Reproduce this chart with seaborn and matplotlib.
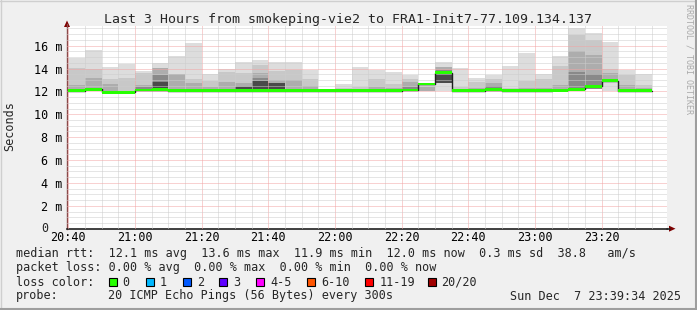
import matplotlib
matplotlib.use("Agg")
import matplotlib.pyplot as plt
import numpy as np
import pandas as pd
import seaborn as sns
from matplotlib.lines import Line2D
from matplotlib.patches import Polygon, Rectangle

# ---------------- data ----------------
bar_start = ["20:40", "20:45", "20:50", "20:55", "21:00", "21:05", "21:10", "21:15",
             "21:20", "21:25", "21:30", "21:35", "21:40", "21:45", "21:50", "21:55",
             "22:00", "22:05", "22:10", "22:15", "22:20", "22:25", "22:30", "22:35",
             "22:40", "22:45", "22:50", "22:55", "23:00", "23:05", "23:10", "23:15",
             "23:20", "23:25", "23:30"]
median_ms = [12.06, 12.18, 11.92, 11.92, 12.12, 12.15, 12.06, 12.06, 12.06, 12.06,
             12.06, 12.06, 12.06, 12.06, 12.06, 12.06, 12.06, 12.06, 12.06, 12.06,
             12.12, 12.65, 13.64, 12.06, 12.06, 12.15, 12.06, 12.06, 12.06, 12.08,
             12.18, 12.43, 12.94, 12.06, 12.06]
loss_count = [0] * 35
smoke_min = [12.00, 12.10, 11.88, 11.88, 12.05, 12.08, 12.00, 12.00, 12.00, 12.00,
             12.00, 12.00, 12.00, 12.00, 12.00, 12.00, 12.00, 12.00, 12.00, 12.00,
             12.05, 12.06, 12.00, 12.00, 12.00, 12.05, 12.00, 12.00, 12.00, 12.00,
             12.08, 12.20, 12.06, 12.00, 12.00]
inner_lo = [12.00, 12.10, 11.88, 11.88, 12.05, 12.08, 12.00, 12.00, 12.00, 12.00,
            12.00, 12.00, 12.00, 12.00, 12.00, 12.00, 12.00, 12.00, 12.00, 12.00,
            12.05, 12.06, 12.70, 12.00, 12.00, 12.05, 12.00, 12.00, 12.00, 12.00,
            12.08, 12.20, 12.94, 12.00, 12.00]
smoke_max = [14.95, 15.60, 14.10, 14.42, 13.78, 14.51, 15.10, 16.23, 13.55, 14.00,
             14.54, 14.75, 14.57, 14.54, 13.87, 12.15, 12.65, 14.10, 13.87, 13.67,
             13.43, 12.76, 14.57, 14.05, 13.15, 13.46, 14.22, 15.36, 13.50, 15.07,
             17.54, 17.10, 16.30, 13.90, 13.55]
smoke_q80 = [14.07, 14.00, 13.06, 13.20, 13.60, 14.02, 13.52, 13.06, 12.90, 13.68,
             13.60, 14.30, 13.81, 13.90, 13.10, 12.00, 12.30, 12.41, 13.11, 12.65,
             13.06, 12.70, 14.16, 12.35, 12.80, 13.05, 12.30, 12.94, 13.06, 14.20,
             16.96, 16.47, 14.00, 13.40, 12.54]
smoke_q60 = [12.56, 13.20, 12.65, 11.88, 12.56, 14.02, 13.52, 12.74, 12.41, 12.82,
             12.70, 13.58, 13.00, 13.00, 12.50, 12.00, 12.00, 12.20, 12.40, 12.30,
             12.80, 12.35, 14.16, 12.00, 12.30, 12.70, 12.00, 12.30, 12.30, 12.53,
             15.50, 15.16, 13.60, 12.54, 12.30]
smoke_q45 = [12.00, 12.10, 11.88, 11.88, 12.40, 13.43, 12.00, 12.00, 12.00, 12.00,
             12.50, 13.15, 12.75, 12.00, 12.00, 12.00, 12.00, 12.00, 12.00, 12.00,
             12.35, 12.06, 13.87, 12.00, 12.00, 12.45, 12.00, 12.00, 12.00, 12.25,
             13.70, 13.55, 13.10, 12.00, 12.00]
smoke_q35 = [12.00, 12.10, 11.88, 11.88, 12.25, 12.85, 12.00, 12.00, 12.00, 12.00,
             12.35, 12.88, 12.70, 12.00, 12.00, 12.00, 12.00, 12.00, 12.00, 12.00,
             12.20, 12.06, 13.40, 12.00, 12.00, 12.30, 12.00, 12.00, 12.00, 12.00,
             12.30, 12.20, 12.94, 12.00, 12.00]

x_tick_labels = ["20:40", "21:00", "21:20", "21:40", "22:00", "22:20", "22:40", "23:00", "23:20"]
y_tick_values = [2, 4, 6, 8, 10, 12, 14, 16]
y_tick_labels = ["2 m", "4 m", "6 m", "8 m", "10 m", "12 m", "14 m", "16 m"]

title = "Last 3 Hours from smokeping-vie2 to FRA1-Init7-77.109.134.137"
legend_median = "median rtt:  12.1 ms avg  13.6 ms max  11.9 ms min  12.0 ms now  0.3 ms sd  38.8   am/s"
legend_loss = "packet loss: 0.00 % avg  0.00 % max  0.00 % min  0.00 % now"
loss_labels = ["0", "1", "2", "3", "4-5", "6-10", "11-19", "20/20"]
loss_colors = ["#26ff00", "#00b8ff", "#0059ff", "#5e00ff", "#ff00ff", "#ff5500", "#ff0000", "#a10000"]
probe_text = "20 ICMP Echo Pings (56 Bytes) every 300s"
stamp_text = "Sun Dec  7 23:39:34 2025"

# ---------------- styling ----------------
sns.set_style("white")
plt.rcParams["font.family"] = ["DejaVu Sans Mono", "DejaVu Sans"]
MONO = 8.5

W, H = 697, 310
fig = plt.figure(figsize=(W / 100, H / 100), dpi=100, facecolor="#f0f0f0")


def fx(px):
    return px / W


def fy(py):
    return 1 - py / H


AX_L, AX_R, AX_B, AX_T = 67, 667, 228.7, 25.6
ax = fig.add_axes([fx(AX_L), fy(AX_B), (AX_R - AX_L) / W, (AX_B - AX_T) / H])
ax.set_facecolor("white")

t0 = 20 * 60 + 40
starts = np.array([int(s[:2]) * 60 + int(s[3:]) - t0 for s in bar_start], dtype=float)
centers = starts + 2.5

layers = [
    (smoke_max, smoke_min, "#dddddd"),
    (smoke_q80, inner_lo, "#c8c8c8"),
    (smoke_q60, inner_lo, "#adadad"),
    (smoke_q45, inner_lo, "#898989"),
    (smoke_q35, inner_lo, "#4a4a4a"),
]
for hi, lo, col in layers:
    hi = np.asarray(hi, float)
    lo = np.asarray(lo, float)
    h = np.maximum(hi - lo, 0.0)
    df = pd.DataFrame({"t": centers, "h": h})
    sns.barplot(data=df, x="t", y="h", bottom=lo, native_scale=True, width=1,
                color=col, saturation=1, errorbar=None, linewidth=0,
                edgecolor="none", ax=ax, zorder=1)

# median: black step line + loss-coloured band
med = np.asarray(median_ms, float)
step_df = pd.DataFrame({"t": np.append(starts, starts[-1] + 5), "m": np.append(med, med[-1])})
sns.lineplot(data=step_df, x="t", y="m", drawstyle="steps-post", color="#202020",
             linewidth=1.0, ax=ax, zorder=3, estimator=None, sort=False)
band = 0.24
loss_col_idx = [0 if c == 0 else 1 for c in loss_count]
band_df = pd.DataFrame({"t": centers, "h": np.full(len(centers), band)})
sns.barplot(data=band_df, x="t", y="h", bottom=med - band / 2, native_scale=True,
            width=1, color=loss_colors[loss_col_idx[0]], saturation=1, errorbar=None,
            linewidth=0, edgecolor="none", ax=ax, zorder=4)

# axes, grid
ax.set_xlim(-0.4, 179.6)
ax.set_ylim(0, 17.75)
ax.set_xlabel("")
ax.set_ylabel("")
ax.set_xticks(np.arange(0, 161, 20))
ax.set_xticklabels(x_tick_labels, fontsize=MONO)
ax.set_xticks(np.arange(0, 180, 5), minor=True)
ax.set_yticks(y_tick_values)
ax.set_yticklabels(y_tick_labels, fontsize=MONO)
ax.set_yticks(np.arange(0.5, 17.75, 0.5), minor=True)
ax.grid(which="minor", color="#cdcdcd", linestyle=(0, (1, 1)), linewidth=0.72)
ax.grid(which="major", color="#f2a4a4", linestyle=(0, (1, 1)), linewidth=0.72)
ax.set_axisbelow(False)
ax.tick_params(axis="both", which="both", direction="out", length=1.6, width=0.7,
               color="#444444", labelcolor="black")
ax.tick_params(axis="x", which="minor", length=0)
ax.tick_params(axis="x", which="major", pad=0.2)
ax.tick_params(axis="y", which="major", pad=1.8)
for s in ["top", "right"]:
    ax.spines[s].set_visible(False)
ax.spines["left"].set_color("#8a4a4a")
ax.spines["bottom"].set_color("#202020")
ax.spines["left"].set_linewidth(1)
ax.spines["bottom"].set_linewidth(1.2)

# axis extensions and arrows (figure pixel coordinates)
def P(x, y):
    return (fx(x), fy(y))


fig.add_artist(Line2D([fx(AX_L), fx(AX_L)], [fy(AX_T), fy(24)], color="#8a4a4a", lw=1))
fig.add_artist(Line2D([fx(AX_R), fx(670)], [fy(AX_B), fy(AX_B)], color="#202020", lw=1.2))
fig.add_artist(Polygon([P(67, 20.5), P(64, 27), P(70, 27)], closed=True,
                       transform=fig.transFigure, color="#7f0000", lw=0))
fig.add_artist(Polygon([P(675.5, AX_B), P(669, AX_B - 3), P(669, AX_B + 3)], closed=True,
                       transform=fig.transFigure, color="#7f0000", lw=0))

# zero label
fig.text(fx(44.7), fy(AX_B), "0", fontsize=MONO, ha="center", va="center")

# title and side texts
fig.text(fx(347.5), fy(19), title, fontsize=9.5, ha="center", va="center")
fig.text(fx(10), fy(126), "Seconds", fontsize=MONO, rotation=90, ha="center", va="center")
fig.text(fx(688.5), fy(4), "RRDTOOL / TOBI OETIKER", fontsize=6, rotation=270,
         ha="center", va="top", color="#aaaaaa")

# legend lines
fig.text(fx(16), fy(254), legend_median, fontsize=MONO, ha="left", va="center")
fig.text(fx(16), fy(268), legend_loss, fontsize=MONO, ha="left", va="center")
fig.text(fx(16), fy(282), "loss color:", fontsize=MONO, ha="left", va="center")
box_x = [108.7, 145.7, 182.7, 219.3, 256.0, 307.3, 365.3, 427.6]
for bx, lab, col in zip(box_x, loss_labels, loss_colors):
    fig.add_artist(Rectangle((fx(bx), fy(286)), 8 / W, 8 / H, transform=fig.transFigure,
                             facecolor=col, edgecolor="black", lw=0.8))
    fig.text(fx(bx + 14), fy(282), lab, fontsize=MONO, ha="left", va="center")
fig.text(fx(16), fy(296), "probe:", fontsize=MONO, ha="left", va="center")
fig.text(fx(107.5), fy(296), probe_text, fontsize=MONO, ha="left", va="center")
fig.text(fx(681), fy(296), stamp_text, fontsize=MONO, ha="right", va="center")

# frame shading
fig.add_artist(Line2D([0, 1], [fy(0.5), fy(0.5)], color="#cfcfcf", lw=1))
fig.add_artist(Line2D([fx(0.5), fx(0.5)], [0, 1], color="#cfcfcf", lw=1))
fig.add_artist(Line2D([0, 1], [fy(309), fy(309)], color="#9e9e9e", lw=1.5))
fig.add_artist(Line2D([fx(696), fx(696)], [0, 1], color="#9e9e9e", lw=1.5))

fig.savefig("out.png", dpi=100, facecolor=fig.get_facecolor())
